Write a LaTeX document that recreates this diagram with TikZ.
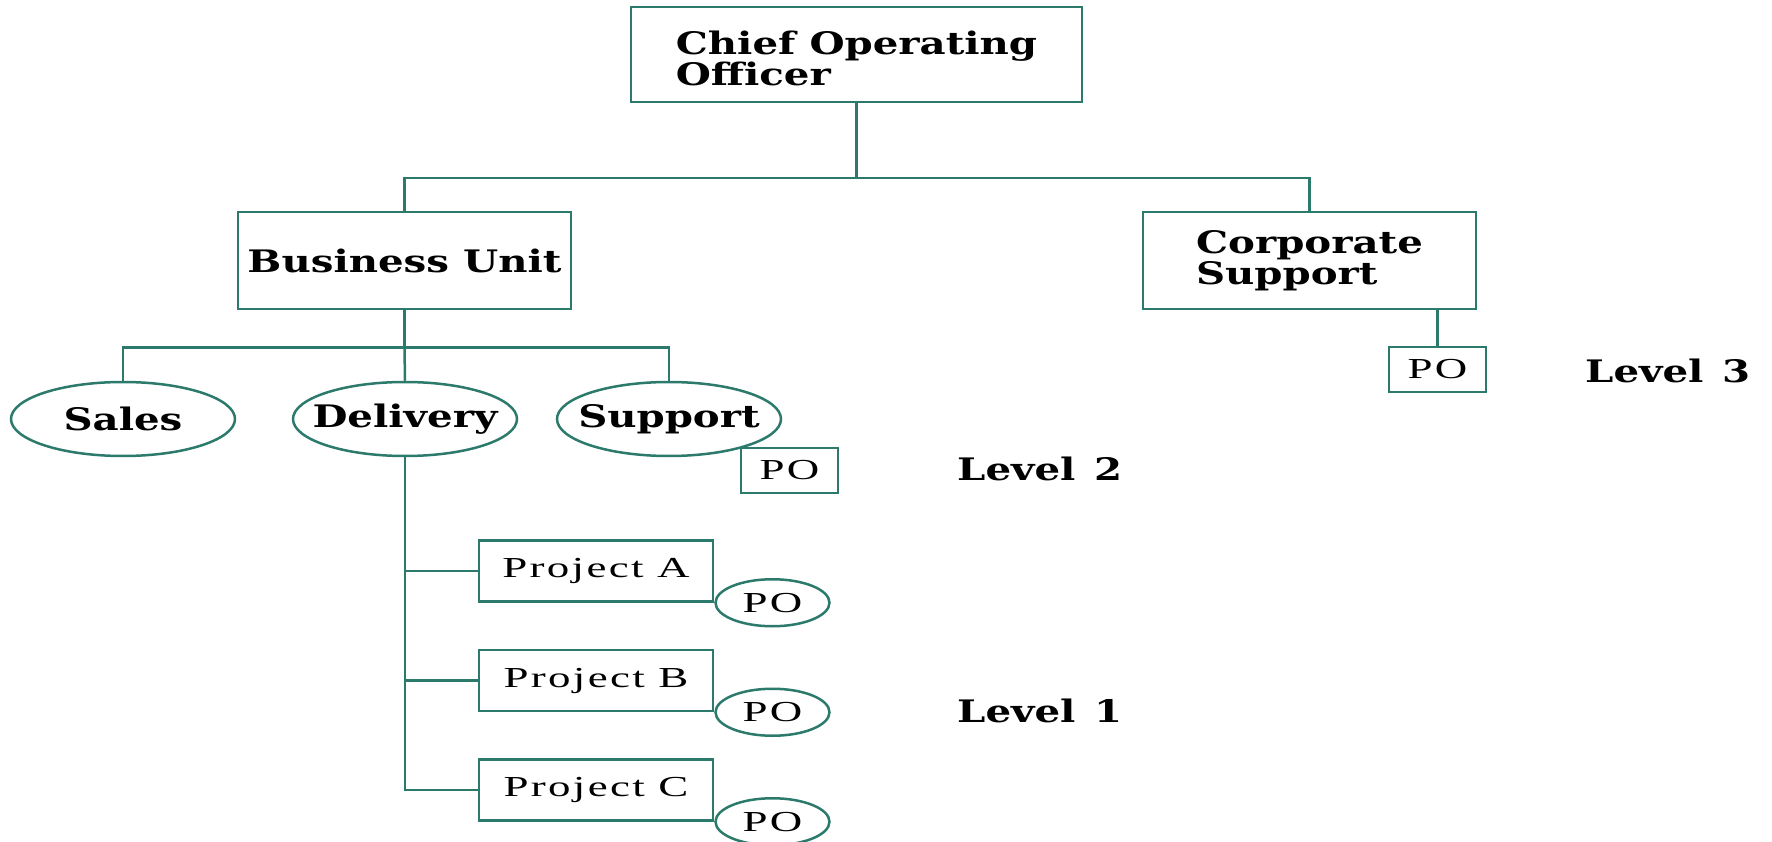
\documentclass[tikz,border=0pt]{standalone}
\usepackage{fontspec}
\setmainfont{Liberation Serif}
\newfontfamily\hdfont[FakeStretch=1.3]{DejaVu Serif}
\newfontfamily\bodyfont[FakeStretch=1.55,LetterSpace=8]{Liberation Serif}
\usetikzlibrary{shapes.geometric}
\definecolor{orgline}{RGB}{44,122,108}

\begin{document}
\begin{tikzpicture}[x=1pt,y=-1pt,
  conn/.style={draw=orgline, line width=2.5pt},
  hd/.style={font=\hdfont\bfseries\fontsize{31}{31}\selectfont},
  body/.style={font=\bodyfont\fontsize{29}{31}\selectfont},
  unitbox/.style={hd, draw=orgline, line width=2.5pt, rectangle, inner sep=0pt,
    minimum width=333pt, minimum height=97pt, align=left},
  teamell/.style={hd, draw=orgline, line width=2.5pt, ellipse,
    inner xsep=-20pt, inner ysep=0pt,
    minimum width=224pt, minimum height=74pt},
  projbox/.style={body, draw=orgline, line width=2.5pt, rectangle, inner sep=0pt,
    minimum width=234pt, minimum height=61pt},
  pobox/.style={body, draw=orgline, line width=2.5pt, rectangle, inner sep=0pt,
    minimum width=97pt, minimum height=45pt},
  poell/.style={body, draw=orgline, line width=2.5pt, ellipse, inner sep=0pt,
    minimum width=114pt, minimum height=47pt},
  lvl/.style={hd, anchor=base west, inner sep=0pt}
]
\useasboundingbox (0,0) rectangle (1772,842);

% top of the hierarchy
\node[unitbox, minimum width=451pt, minimum height=95pt] (coo) at (856.5,54.5)
  {\rule{0pt}{32pt}Chief Operating\\Officer};
\node[unitbox] (bu) at (404.5,260.5) {Business Unit};
\node[unitbox] (cs) at (1309.5,260.5) {Corporate\\Support};
\node[pobox] (po3) at (1437.5,369.5) {PO};

% functions of the business unit
\node[teamell] (sales) at (123,419) {Sales};
\node[teamell] (delivery) at (405,419) {Delivery};
\node[teamell] (support) at (669,419) {Support};
\node[pobox] (po2) at (789.5,470.5) {PO};

% projects under delivery
\node[projbox] (pa) at (596,571) {Project A};
\node[projbox] (pb) at (596,680.5) {Project B};
\node[projbox] (pc) at (596,790) {Project C};
\node[poell, anchor=west] (poa) at (pa.south east) {PO};
\node[poell, anchor=west] (pob) at (pb.south east) {PO};
\node[poell, anchor=west] (poc) at (pc.south east) {PO};

% level labels
\node[lvl] (lv3) at (1585,382) {Level\hspace{0.6em}3};
\node[lvl] (lv2) at (957,480) {Level\hspace{0.6em}2};
\node[lvl] (lv1) at (957,722) {Level\hspace{0.6em}1};

% connectors
\draw[conn] (coo.south) -- ++(0,75) coordinate (j0);
\draw[conn] (bu.north) -- (bu.north |- j0) -- (cs.north |- j0) -- (cs.north);
\draw[conn] (po3.north) -- (po3.north |- cs.south);
\draw[conn] (bu.south) -- ++(0,37) coordinate (j1);
\draw[conn] (sales.north) -- (sales.north |- j1) -- (support.north |- j1) -- (support.north);
\draw[conn] (j1) -- (delivery.north);
\draw[conn] (delivery.south) -- (delivery.south |- pc.west) -- (pc.west);
\draw[conn] (delivery.south |- pa.west) -- (pa.west);
\draw[conn] (delivery.south |- pb.west) -- (pb.west);
\end{tikzpicture}
\end{document}
